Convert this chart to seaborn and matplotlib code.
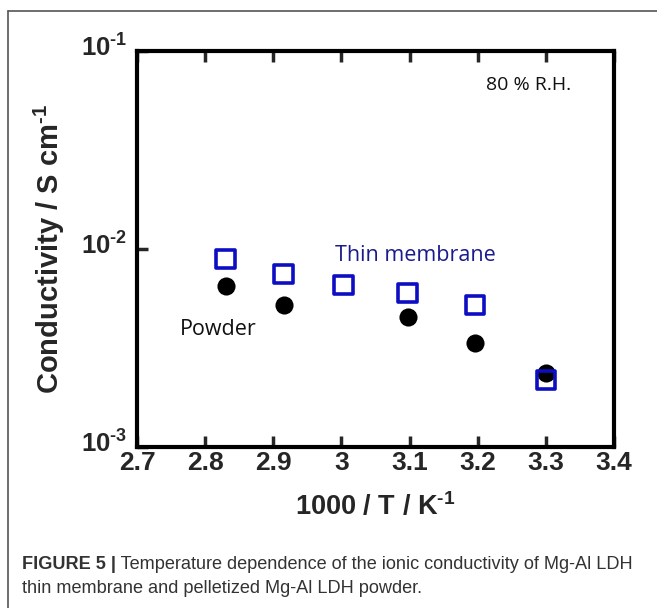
import matplotlib
matplotlib.use("Agg")
import matplotlib.pyplot as plt
import matplotlib.transforms as mtransforms
from matplotlib.lines import Line2D
import pandas as pd
import seaborn as sns

# values
inv_temp_membrane = [2.83, 2.915, 3.003, 3.097, 3.196, 3.30]
cond_membrane = [0.0089, 0.0075, 0.0066, 0.0060, 0.0052, 0.00218]
inv_temp_powder = [2.83, 2.915, 3.097, 3.196, 3.30]
cond_powder = [0.0065, 0.0052, 0.00453, 0.00335, 0.00236]

xticks = [2.7, 2.8, 2.9, 3.0, 3.1, 3.2, 3.3, 3.4]
xticklabels = ["2.7", "2.8", "2.9", "3", "3.1", "3.2", "3.3", "3.4"]
yticks = [1e-3, 1e-2, 1e-1]
yticklabels = [r"$10^{\text{-3}}$", r"$10^{\text{-2}}$", r"$10^{\text{-1}}$"]

caption_bold = "FIGURE 5 |"
caption_line1 = " Temperature dependence of the ionic conductivity of Mg-Al LDH"
caption_line2 = "thin membrane and pelletized Mg-Al LDH powder."

sns.set_style("ticks")
plt.rcParams["font.family"] = ["Liberation Sans", "DejaVu Sans"]
plt.rcParams["mathtext.fontset"] = "custom"
plt.rcParams["mathtext.rm"] = "Liberation Sans:bold"
plt.rcParams["mathtext.bf"] = "Liberation Sans:bold"
plt.rcParams["mathtext.default"] = "bf"

df_m = pd.DataFrame({"x": inv_temp_membrane, "y": cond_membrane})
df_p = pd.DataFrame({"x": inv_temp_powder, "y": cond_powder})

fig = plt.figure(figsize=(6.57, 6.08), dpi=100, facecolor="white")
ax = fig.add_axes([0.2085, 0.2648, 0.7261, 0.6513])

sns.scatterplot(data=df_p, x="x", y="y", ax=ax, marker="o", s=170,
                color="black", edgecolor="black", linewidth=0, zorder=2)
sns.scatterplot(data=df_m, x="x", y="y", ax=ax, marker="s", s=175,
                facecolor="none", edgecolor="#0d0dc4", linewidth=2.6, zorder=3)

ax.set_yscale("log")
ax.set_xlim(2.7, 3.4)
ax.set_ylim(1e-3, 1e-1)
ax.set_xticks(xticks)
ax.set_xticklabels(xticklabels, fontweight="bold", fontsize=19)
ax.set_yticks(yticks)
ax.set_yticklabels(yticklabels, fontsize=18.5)
ax.yaxis.set_minor_locator(matplotlib.ticker.NullLocator())
ax.tick_params(axis="x", which="major", direction="in", length=8, width=2.5,
               top=True, bottom=True, pad=3)
ax.tick_params(axis="y", which="major", direction="in", length=8, width=2.5,
               left=True, right=False, pad=7)
# y labels sit a little above their ticks in the original
shift = mtransforms.ScaledTranslation(0, 4 / 72, fig.dpi_scale_trans)
for lab in ax.get_yticklabels():
    lab.set_transform(lab.get_transform() + shift)
for sp in ax.spines.values():
    sp.set_linewidth(3)
    sp.set_color("black")

ax.set_xlabel(r"1000 / T / K$^{\text{-1}}$", fontweight="bold",
              fontsize=19.5, labelpad=12)
ax.set_ylabel(r"Conductivity / S cm$^{\text{-1}}$", fontweight="bold",
              fontsize=21, labelpad=10)

ax.text(2.99, 0.0093, "Thin membrane", color="#1a1a8c", fontsize=15.5,
        fontfamily="Open Sans", va="center", ha="left")
ax.text(2.763, 0.0039, "Powder", color="#111111", fontsize=15.5,
        fontfamily="Open Sans", va="center", ha="left")
ax.text(3.212, 0.067, "80 % R.H.", color="#111111", fontsize=14,
        fontfamily="Open Sans", va="center", ha="left")

# figure panel frame (top and left edges)
fig.add_artist(Line2D([0.012, 1.0], [0.982, 0.982], transform=fig.transFigure,
                      color="#555555", linewidth=1.2))
fig.add_artist(Line2D([0.012, 0.012], [0.0, 0.982], transform=fig.transFigure,
                      color="#555555", linewidth=1.2))

t = fig.text(0.033, 0.064, caption_bold, fontsize=13.1, fontweight="bold",
             color="#333333", va="baseline", ha="left")
fig.canvas.draw()
x1 = t.get_window_extent().x1 / fig.bbox.width
fig.text(x1, 0.064, caption_line1, fontsize=13.1, color="#333333",
         va="baseline", ha="left")
fig.text(0.033, 0.024, caption_line2, fontsize=13.1, color="#333333",
         va="baseline", ha="left")

fig.savefig("out.png", dpi=100, facecolor="white")
